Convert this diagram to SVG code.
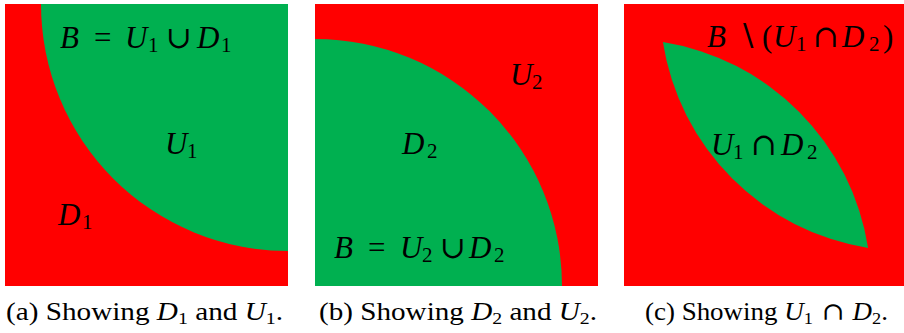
<svg xmlns="http://www.w3.org/2000/svg" width="904" height="333" viewBox="0 0 904 333">
<style>
.red{fill:#FF0000}
.green{fill:#00B050}
text{font-family:"Liberation Serif","DejaVu Serif",serif;fill:#000}
.lbl{font-size:31px}
.cap{font-size:25px}
.i{font-style:italic}
.sub{font-size:21px}
.csub{font-size:17px}
.op{font-family:"DejaVu Serif","Liberation Serif",serif;font-style:normal}
</style>
<defs>
<clipPath id="clipA"><rect x="5" y="4" width="283" height="282"/></clipPath>
<clipPath id="clipB"><rect x="315" y="4" width="283" height="282"/></clipPath>
</defs>
<rect width="904" height="333" fill="#FFFFFF"/>

<g id="panel-a">
<rect class="red" x="5" y="4" width="283" height="282"/>
<circle class="green" cx="288" cy="4" r="247" clip-path="url(#clipA)"/>
<text class="lbl" y="48"><tspan class="i" x="60">B</tspan><tspan x="94">=</tspan><tspan class="i" x="125">U</tspan><tspan class="sub" x="148" dy="4">1</tspan><tspan class="op" x="166" dy="-4">∪</tspan><tspan class="i" x="197">D</tspan><tspan class="sub" x="221" dy="4">1</tspan></text>
<text class="lbl" y="154"><tspan class="i" x="165">U</tspan><tspan class="sub" x="187" dy="4">1</tspan></text>
<text class="lbl" y="225"><tspan class="i" x="58">D</tspan><tspan class="sub" x="82" dy="4">1</tspan></text>
</g>

<g id="panel-b">
<rect class="red" x="315" y="4" width="283" height="282"/>
<circle class="green" cx="315" cy="286" r="247" clip-path="url(#clipB)"/>
<text class="lbl" y="85"><tspan class="i" x="510">U</tspan><tspan class="sub" x="532" dy="4">2</tspan></text>
<text class="lbl" y="154"><tspan class="i" x="402">D</tspan><tspan class="sub" x="427" dy="4">2</tspan></text>
<text class="lbl" y="258"><tspan class="i" x="334">B</tspan><tspan x="368">=</tspan><tspan class="i" x="400">U</tspan><tspan class="sub" x="422" dy="4">2</tspan><tspan class="op" x="440" dy="-4">∪</tspan><tspan class="i" x="469">D</tspan><tspan class="sub" x="494" dy="4">2</tspan></text>
</g>

<g id="panel-c">
<rect class="red" x="624" y="4" width="283" height="282"/>
<path class="green" d="M662.9,42.1 A247,247 0 0 1 868.1,247.9 A247,247 0 0 1 662.9,42.1 Z"/>
<text class="lbl" y="47"><tspan class="i" x="707">B</tspan><tspan class="op" x="737">∖</tspan><tspan x="762">(</tspan><tspan class="i" x="773">U</tspan><tspan class="sub" x="796" dy="4">1</tspan><tspan class="op" x="813" dy="-4">∩</tspan><tspan class="i" x="842">D</tspan><tspan class="sub" x="869" dy="4">2</tspan><tspan x="883" dy="-4">)</tspan></text>
<text class="lbl" y="155"><tspan class="i" x="711">U</tspan><tspan class="sub" x="733" dy="4">1</tspan><tspan class="op" x="751" dy="-4">∩</tspan><tspan class="i" x="781">D</tspan><tspan class="sub" x="807" dy="4">2</tspan></text>
</g>

<g id="captions">
<text class="cap" x="6" y="320" textLength="277" lengthAdjust="spacingAndGlyphs">(a) Showing <tspan class="i">D</tspan><tspan class="csub" dy="4">1</tspan><tspan dy="-4"> and </tspan><tspan class="i">U</tspan><tspan class="csub" dy="4">1</tspan><tspan dy="-4">.</tspan></text>
<text class="cap" x="319" y="320" textLength="278" lengthAdjust="spacingAndGlyphs">(b) Showing <tspan class="i">D</tspan><tspan class="csub" dy="4">2</tspan><tspan dy="-4"> and </tspan><tspan class="i">U</tspan><tspan class="csub" dy="4">2</tspan><tspan dy="-4">.</tspan></text>
<text class="cap" x="645" y="320" textLength="243" lengthAdjust="spacingAndGlyphs">(c) Showing <tspan class="i">U</tspan><tspan class="csub" dy="4">1</tspan><tspan class="op" dy="-4"> ∩ </tspan><tspan class="i">D</tspan><tspan class="csub" dy="4">2</tspan><tspan dy="-4">.</tspan></text>
</g>
</svg>
